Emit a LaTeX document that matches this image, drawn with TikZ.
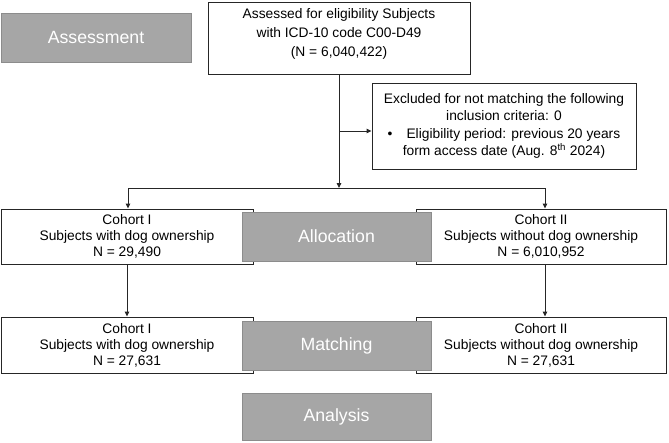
\documentclass[tikz,border=0pt]{standalone}
\usepackage{fontspec}
\setmainfont{Liberation Sans}
\usetikzlibrary{arrows.meta}
\definecolor{gfill}{HTML}{A6A6A6}
\definecolor{gline}{HTML}{8C8C8C}
\definecolor{bline}{HTML}{262626}
\begin{document}
\begin{tikzpicture}[x=1pt,y=-1pt,
  wbox/.style={draw=bline, line width=0.9pt, fill=white, inner sep=0pt, align=center,
    font=\fontsize{13.8}{16}\selectfont},
  gbox/.style={draw=gline, line width=0.6pt, fill=gfill, inner sep=0pt, text=white,
    font=\fontsize{17.7}{20}\selectfont},
  conn/.style={draw=bline, line width=0.9pt},
  arr/.style={conn, -{Triangle[length=5pt,width=4.5pt]}}]
\useasboundingbox (0,0) rectangle (669,442);
% white boxes
\node[wbox, minimum width=262pt, minimum height=72pt, font=\fontsize{13.8}{19}\selectfont] (top) at (339,38)
  {Assessed for eligibility Subjects\\with ICD-10 code C00-D49\\(N = 6,040,422)\rule[-12pt]{0pt}{12pt}};
\node[wbox, minimum width=264pt, minimum height=86pt, font=\fontsize{13.8}{17.5}\selectfont] (excl) at (504,126)
  {Excluded for not matching the following\\inclusion criteria: 0\\\textbullet\hspace{14pt}Eligibility period: previous 20 years\\form access date (Aug. 8\textsuperscript{th} 2024)};
\node[wbox, minimum width=252pt, minimum height=55pt] (c1a) at (127,236.5)
  {Cohort I\\Subjects with dog ownership\\N = 29,490};
\node[wbox, minimum width=250pt, minimum height=55pt] (c2a) at (541,236.5)
  {Cohort II\\Subjects without dog ownership\\N = 6,010,952};
\node[wbox, minimum width=252pt, minimum height=56pt] (c1b) at (127,345)
  {Cohort I\\Subjects with dog ownership\\N = 27,631};
\node[wbox, minimum width=250pt, minimum height=56pt] (c2b) at (541,345)
  {Cohort II\\Subjects without dog ownership\\N = 27,631};
% grey stage boxes
\node[gbox, minimum width=190pt, minimum height=49pt] (assess) at (96,37.5) {Assessment};
\node[gbox, minimum width=189pt, minimum height=49pt] (alloc) at (336.5,236.5) {Allocation};
\node[gbox, minimum width=189pt, minimum height=49pt] (match) at (336.5,345.5) {Matching};
\node[gbox, minimum width=189pt, minimum height=47pt] (anal) at (336.5,416.5) {Analysis};
% connectors
\coordinate (br) at (339,188);
\coordinate (bl) at (128,188);
\coordinate (brr) at (545,188);
\coordinate (ex) at (339,131);
\draw[arr] (top.south) -- (br);
\draw[conn] (bl) -- (brr);
\draw[arr] (ex) -- (ex -| excl.west);
\draw[arr] (bl) -- (bl |- c1a.north);
\draw[arr] (brr) -- (brr |- c2a.north);
\draw[arr] (c1a.south) -- (c1b.north);
\draw[arr] (c2a.south -| brr) -- (c2b.north -| brr);
\end{tikzpicture}
\end{document}
